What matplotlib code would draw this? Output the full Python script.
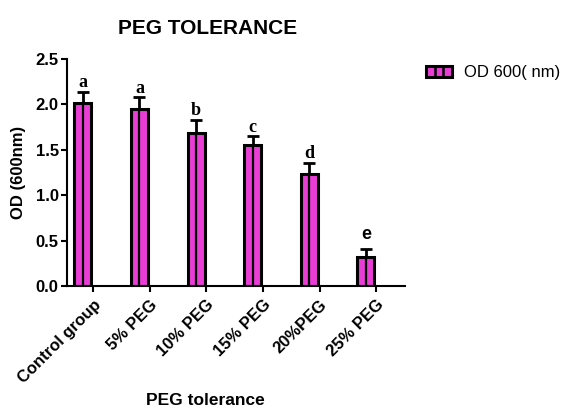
import matplotlib
matplotlib.use("Agg")
import matplotlib.pyplot as plt
from matplotlib.patches import Rectangle
from matplotlib.lines import Line2D
from matplotlib.legend_handler import HandlerBase
import numpy as np

categories = ["Control group", "5% PEG", "10% PEG", "15% PEG", "20%PEG", "25% PEG"]
values = [2.01, 1.95, 1.68, 1.55, 1.23, 0.32]
errors = [0.13, 0.13, 0.15, 0.10, 0.13, 0.09]
letters = ["a", "a", "b", "c", "d", "e"]
yticks = [0.0, 0.5, 1.0, 1.5, 2.0, 2.5]

PINK = "#E93DD6"
plt.rcParams['font.family'] = ['Liberation Sans', 'DejaVu Sans']

fig = plt.figure(figsize=(5.74, 4.12), dpi=100)
ax = fig.add_axes([67/574, 1-286/412, (405-67)/574, (286-59)/412])

x = np.arange(len(categories))
xb = x - 0.18
bw = 0.30
ax.bar(xb, values, width=bw, color=PINK, edgecolor="black", linewidth=2.2, zorder=2,
       label="OD 600( nm)")
ax.vlines(xb, 0, values, color="black", linewidth=1.6, zorder=3)
ax.errorbar(xb, values, yerr=[np.zeros(len(values)), errors], fmt="none",
            ecolor="black", elinewidth=2.0, capsize=4, capthick=2.0, zorder=1)

pads = [0.05, 0.05, 0.05, 0.05, 0.05, 0.11]
for xi, v, e, l, p in zip(xb, values, errors, letters, pads):
    fam = ['Liberation Sans'] if l == "e" else ['Liberation Serif']
    ax.text(xi, v + e + p, l, ha="center", va="baseline", fontsize=13,
            fontweight="bold", family=fam)

ax.set_xlim(-0.46, 5.51)
ax.set_ylim(0, 2.5)
ax.set_yticks(yticks)
ax.set_yticklabels([f"{t:.1f}" for t in yticks], fontsize=12, fontweight="bold")
ax.set_xticks(x)
ax.set_xticklabels(categories, rotation=45, ha="right", rotation_mode="anchor",
                   fontsize=12, fontweight="bold")
for s in ["top", "right"]:
    ax.spines[s].set_visible(False)
for s in ["left", "bottom"]:
    ax.spines[s].set_linewidth(1.5)
ax.tick_params(direction="out", length=4, width=1.5, pad=2)
ax.tick_params(axis="x", pad=4)

ax.set_ylabel("OD (600nm)", fontsize=12, fontweight="bold")
ax.yaxis.set_label_coords(-(67-26)/338, 0.5)
ax.set_xlabel("PEG tolerance", fontsize=12.5, fontweight="bold")
ax.xaxis.set_label_coords((205-67)/338, -(393-286)/227)
ax.set_title("PEG TOLERANCE", fontsize=15, fontweight="bold", x=(208-67)/338, pad=18)


class StripedHandler(HandlerBase):
    def create_artists(self, legend, orig_handle, xdescent, ydescent, width, height,
                       fontsize, trans):
        r = Rectangle((-xdescent, -ydescent), width, height, facecolor=PINK,
                      edgecolor="black", linewidth=2.2, transform=trans)
        arts = [r]
        for f in (1/3, 2/3):
            xx = -xdescent + width * f
            arts.append(Line2D([xx, xx], [-ydescent, -ydescent + height],
                               color="black", linewidth=1.8, transform=trans))
        return arts


handles, labels = ax.get_legend_handles_labels()
leg = fig.legend(handles, labels, loc="center left",
                 bbox_to_anchor=(426/574, 1-73/412), frameon=False,
                 fontsize=12, handlelength=1.55, handleheight=0.6,
                 handletextpad=0.7, borderpad=0, borderaxespad=0,
                 handler_map={type(handles[0]): StripedHandler()})

fig.savefig("out.png", dpi=100)
